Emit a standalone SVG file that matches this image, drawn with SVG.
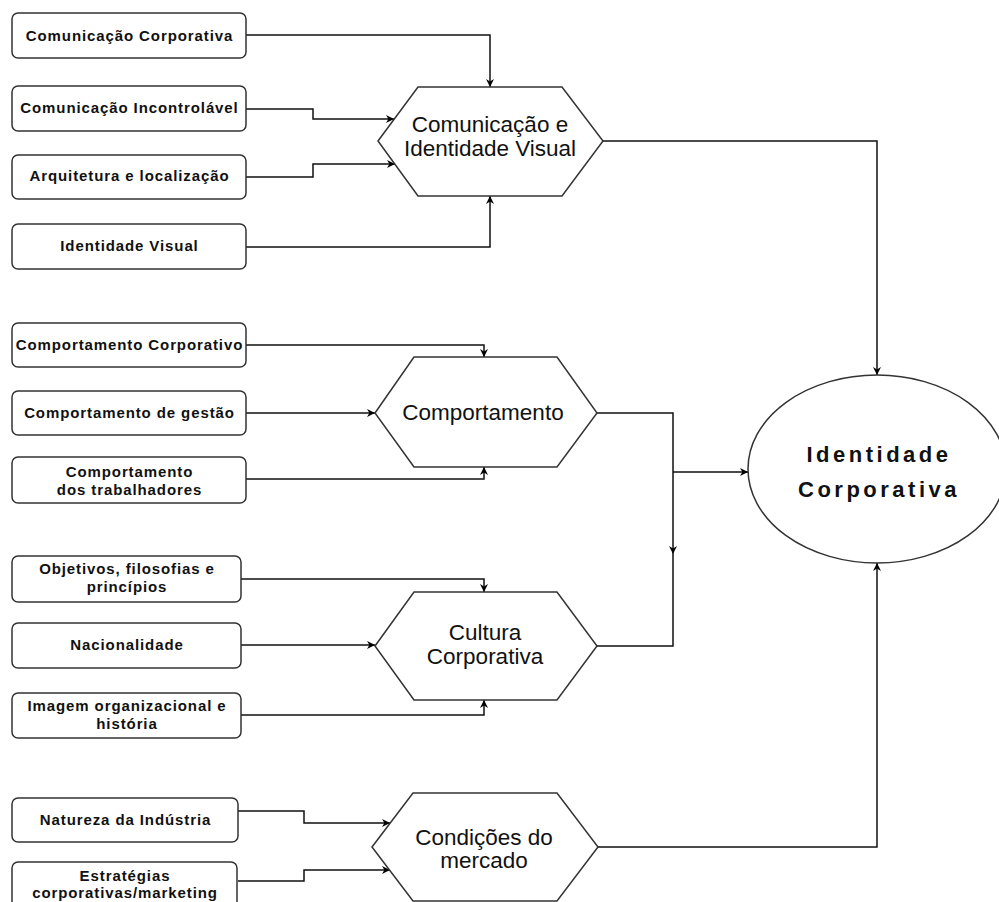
<svg xmlns="http://www.w3.org/2000/svg" width="999" height="902" viewBox="0 0 999 902">
<defs>
<marker id="arr" viewBox="0 0 10 10" refX="10" refY="5" markerWidth="8" markerHeight="8" markerUnits="userSpaceOnUse" orient="auto">
<path d="M0,0 L10,5 L0,10 L3,5 Z" fill="#000"/>
</marker>
<style>
.box{fill:#fff;stroke:#333;stroke-width:1.5}
.shape{fill:#fff;stroke:#333;stroke-width:1.5}
.bt{font-family:"Liberation Sans",Arial,sans-serif;font-weight:bold;font-size:15px;letter-spacing:0.9px;fill:#111;text-anchor:middle}
.ht{font-family:"Liberation Sans",Arial,sans-serif;font-size:22.5px;fill:#111;text-anchor:middle}
.et{font-family:"Liberation Sans",Arial,sans-serif;font-weight:bold;font-size:22px;letter-spacing:3.5px;fill:#111;text-anchor:middle}
.c{fill:none;stroke:#111;stroke-width:1.5}
.a{marker-end:url(#arr)}
</style>
</defs>
<rect width="999" height="902" fill="#fff"/>
<g id="connectors">
<path class="c a" d="M246,35 H490 V87"/>
<path class="c a" d="M246,109 H313 V119 H394"/>
<path class="c a" d="M246,177 H313 V164 H395"/>
<path class="c a" d="M246,247 H490 V196"/>
<path class="c a" d="M603,141 H877 V375"/>
<path class="c a" d="M246,345 H484 V357"/>
<path class="c a" d="M246,413 H375"/>
<path class="c a" d="M246,479 H484 V467"/>
<path class="c a" d="M597,413 H673 V554"/>
<path class="c" d="M597,646 H673 V554"/>
<path class="c a" d="M673,472 H748"/>
<path class="c a" d="M241,579 H484 V592"/>
<path class="c a" d="M241,645 H375"/>
<path class="c a" d="M241,715 H484 V700"/>
<path class="c a" d="M238,811 H304 V823 H390"/>
<path class="c a" d="M238,881 H304 V870 H390"/>
<path class="c a" d="M598,847 H877 V563"/>
</g>
<g id="n1"><rect class="box" x="12" y="13" width="234" height="45" rx="6"/><text class="bt" x="129.5" y="41">Comunicação Corporativa</text></g>
<g id="n2"><rect class="box" x="12" y="86" width="234" height="45" rx="6"/><text class="bt" x="129.5" y="113">Comunicação Incontrolável</text></g>
<g id="n3"><rect class="box" x="12" y="155" width="234" height="44" rx="6"/><text class="bt" x="129.5" y="181">Arquitetura e localização</text></g>
<g id="n4"><rect class="box" x="12" y="224" width="234" height="45" rx="6"/><text class="bt" x="129.5" y="251">Identidade Visual</text></g>
<g id="n5"><rect class="box" x="12" y="323" width="234" height="44" rx="6"/><text class="bt" x="129.5" y="350">Comportamento Corporativo</text></g>
<g id="n6"><rect class="box" x="12" y="391" width="234" height="44" rx="6"/><text class="bt" x="129.5" y="418">Comportamento de gestão</text></g>
<g id="n7"><rect class="box" x="12" y="457" width="234" height="46" rx="6"/><text class="bt" x="129.5" y="477">Comportamento</text><text class="bt" x="129.5" y="495">dos trabalhadores</text></g>
<g id="n8"><rect class="box" x="12" y="556" width="229" height="46" rx="6"/><text class="bt" x="127" y="574">Objetivos, filosofias e</text><text class="bt" x="127" y="592">princípios</text></g>
<g id="n9"><rect class="box" x="12" y="623" width="229" height="45" rx="6"/><text class="bt" x="127" y="650">Nacionalidade</text></g>
<g id="n10"><rect class="box" x="12" y="693" width="229" height="45" rx="6"/><text class="bt" x="127" y="711">Imagem organizacional e</text><text class="bt" x="127" y="729">história</text></g>
<g id="n11"><rect class="box" x="12" y="798" width="226" height="44" rx="6"/><text class="bt" x="125.5" y="825">Natureza da Indústria</text></g>
<g id="n12"><rect class="box" x="12" y="862" width="225" height="46" rx="6"/><text class="bt" x="125" y="881">Estratégias</text><text class="bt" x="125" y="898">corporativas/marketing</text></g>
<g id="h1"><polygon class="shape" points="378,141 418,87 562,87 603,141 562,196 418,196"/><text class="ht" x="490" y="132">Comunicação e</text><text class="ht" x="490" y="156">Identidade Visual</text></g>
<g id="h2"><polygon class="shape" points="375,413 414,357 557,357 597,413 557,467 414,467"/><text class="ht" x="483" y="420">Comportamento</text></g>
<g id="h3"><polygon class="shape" points="375,646 414,592 557,592 597,646 557,700 414,700"/><text class="ht" x="485" y="640">Cultura</text><text class="ht" x="485" y="664">Corporativa</text></g>
<g id="h4"><polygon class="shape" points="372,847 413,793 557,793 598,847 557,901 413,901"/><text class="ht" x="484" y="845">Condições do</text><text class="ht" x="484" y="868">mercado</text></g>
<g id="e1"><ellipse class="shape" cx="877" cy="469" rx="129" ry="94"/><text class="et" x="879" y="462">Identidade</text><text class="et" x="879" y="497">Corporativa</text></g>
</svg>
